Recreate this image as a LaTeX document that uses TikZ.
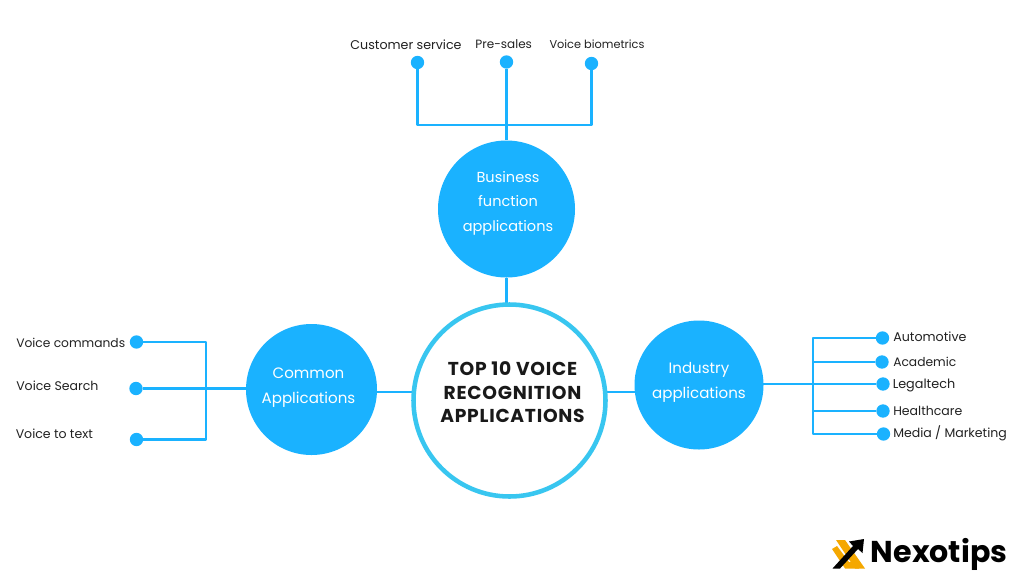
\documentclass[tikz,border=0pt]{standalone}
\usepackage{fontspec}
\usetikzlibrary{backgrounds}
\setmainfont{Poppins}
\definecolor{hubblue}{HTML}{1AB2FF}
\definecolor{ringblue}{HTML}{38C6F0}
\definecolor{labelgrey}{HTML}{222222}
\definecolor{logogold}{HTML}{F5A800}
\tikzset{
  hub/.style={circle,fill=hubblue,minimum size=#1*0.75pt,inner sep=0pt},
  hubtext/.style={text=white,inner sep=0pt,align=center,font=\fontsize{#1}{18.4pt}\selectfont},
  hubtext/.default={11.3pt},
  dot/.style={circle,fill=hubblue,minimum size=10pt,inner sep=0pt},
  lab/.style={text=labelgrey,inner sep=0pt,text height=7pt,text depth=0pt,font=\fontsize{#1}{12pt}\selectfont},
  lab/.default={9.4pt},
  wire/.style={draw=hubblue,line width=1.7pt,line join=round},
}
\begin{document}
\begin{tikzpicture}[x=0.75pt,y=-0.75pt]
\useasboundingbox (0,0) rectangle (1024,576);

% bends and tap points of the connectors
\coordinate (topL) at (417.5,125);
\coordinate (topR) at (591.5,125);
\coordinate (leftT) at (206,342);
\coordinate (leftM) at (206,388.5);
\coordinate (leftB) at (206,439.5);
\coordinate (rA) at (813,338);
\coordinate (rB) at (813,362);
\coordinate (rC) at (813,384);
\coordinate (rD) at (813,411);
\coordinate (rE) at (813,434);
\coordinate (midL) at (395,392);
\coordinate (midR) at (625,392);

% leaf dots
\node[dot] (cs) at (417.5,62.5) {};
\node[dot] (ps) at (506.5,62) {};
\node[dot] (vb) at (591.5,63.5) {};
\node[dot] (vc) at (136.5,342) {};
\node[dot] (vs) at (136,388.5) {};
\node[dot] (vt) at (136.5,439.5) {};
\node[dot] (au) at (882.5,338) {};
\node[dot] (ac) at (882,362) {};
\node[dot] (le) at (883,384) {};
\node[dot] (he) at (883,411) {};
\node[dot] (me) at (883.5,434) {};

% hubs
\node[circle,draw=ringblue,line width=3.4pt,fill=white,minimum size=192*0.75pt,inner sep=0pt] (core) at (509.5,400.5) {};
\node[hub=137] (biz) at (506.5,209) {};
\node[hub=131] (com) at (311.5,389.5) {};
\node[hub=129] (ind) at (699,385) {};

% hub captions
\node[inner sep=0pt,align=center,text=black!90,font=\fontsize{14pt}{17.6pt}\selectfont\bfseries\addfontfeature{LetterSpace=4}] (corecap) at (512.5,392.5) {TOP 10 VOICE\\RECOGNITION\\APPLICATIONS};
\node[hubtext=10.9pt] (bizcap) at (508,203) {Business\\function\\applications};
\node[hubtext] (comcap) at (308.5,387.5) {Common\\Applications};
\node[hubtext] (indcap) at (699,382.5) {Industry\\applications};

% connectors run behind the hubs and dots
\begin{scope}[on background layer]
\fill[white] (0,0) rectangle (1024,576);
\draw[wire] (cs) -- (topL) -- (topR) -- (vb);
\draw[wire] (ps) -- (biz);
\draw[wire] (biz) -- (biz |- core);
\draw[wire] (vc) -- (leftT) -- (leftB) -- (vt);
\draw[wire] (vs) -- (leftM) -- (leftM -| com);
\draw[wire] (com |- midL) -- (core |- midL);
\draw[wire] (core |- midR) -- (ind |- midR);
\draw[wire] (ind |- rC) -- (rC);
\draw[wire] (au) -- (rA) -- (rE) -- (me);
\draw[wire] (rB) -- (ac);
\draw[wire] (rC) -- (le);
\draw[wire] (rD) -- (he);
\end{scope}

% leaf labels
\node[lab=9.5pt] (tcs) at (406,45) {Customer service};
\node[lab=9pt] (tps) at (503.7,43.7) {Pre-sales};
\node[lab=8.5pt] (tvb) at (597,44) {Voice biometrics};
\node[lab=9.2pt,anchor=west] (tvc) at (16,343.3) {Voice commands};
\node[lab,anchor=west] (tvs) at (16,385.7) {Voice Search};
\node[lab,anchor=west] (tvt) at (15.5,434.3) {Voice to text};
\node[lab=9.5pt,anchor=west] (tau) at (893,336.7) {Automotive};
\node[lab=9.2pt,anchor=west] (tac) at (893,361.7) {Academic};
\node[lab=9.6pt,anchor=west] (tle) at (892.5,384.3) {Legaltech};
\node[lab,anchor=west] (the) at (893,411) {Healthcare};
\node[lab,anchor=west] (tme) at (893,433.3) {Media / Marketing};

% brand mark: gold chevrons crossed by a black rising arrow
\fill[logogold] (836,540) -- (845,540) -- (865,568.5) -- (855,568.5) -- cycle;
\fill[logogold] (832,549) -- (837,546) -- (849,562) -- (855,562) -- (859,568.5) -- (845,568.5) -- cycle;
\fill[black] (832.5,568.5) -- (853,546) -- (849,541.5) -- (864,539) -- (862.5,553) -- (858,549) -- (840,568.5) -- cycle;
\node[inner sep=0pt,anchor=west,font=\fontsize{22.6pt}{24pt}\selectfont\bfseries,text=black] (brand) at (870.5,554) {Nexotips};
\end{tikzpicture}
\end{document}
